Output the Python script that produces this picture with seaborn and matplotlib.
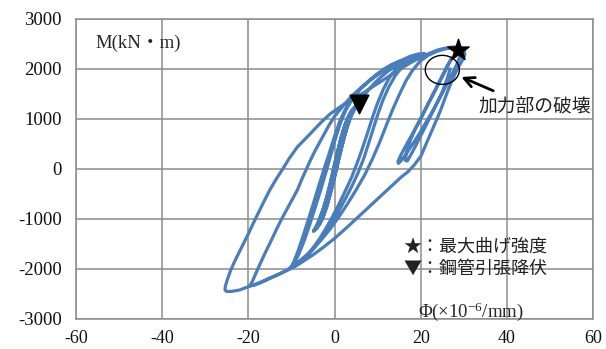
import matplotlib
matplotlib.use("Agg")
import matplotlib.pyplot as plt
from matplotlib.patches import Ellipse
import seaborn as sns

phi_elastic = [0, 0.8, 1.6, 2.5, 3.4, 4.2, 4.9, 5.6,
               4.8, 3.9, 3.0, 2.2, 1.4, 0.6, -0.2, -1.0, -1.8, -2.6, -3.4, -4.1, -4.9,
               -4.2, -3.4, -2.6, -1.8, -1.0, -0.2, 0.6, 1.4, 2.2, 3.0, 3.8, 4.6, 5.5,
               4.7, 3.8, 2.9, 2.1, 1.3, 0.5, -0.3, -1.1, -1.9, -2.7, -3.5, -4.2, -4.8,
               -4.1, -3.3, -2.5, -1.7, -0.9, -0.1, 0.7, 1.5, 2.3, 3.1, 3.9, 4.8, 5.6]
m_elastic = [0, 250, 500, 760, 980, 1140, 1240, 1300,
             1250, 1160, 1010, 820, 580, 300, 0, -300, -570, -800, -990, -1140, -1250,
             -1200, -1100, -950, -750, -500, -230, 60, 350, 620, 860, 1050, 1190, 1290,
             1240, 1140, 990, 800, 560, 280, -20, -320, -590, -820, -1000, -1140, -1230,
             -1180, -1080, -930, -730, -480, -210, 80, 370, 640, 880, 1070, 1220, 1300]

phi_cycle2 = [6.6, 7.8, 9.2, 10.8, 12.5, 14.3, 16,
              15, 13.5, 11.8, 10, 8, 6, 4, 2.5, 1.2, 0, -1.2, -2.5, -3.8, -5, -6.2, -7.4, -8.5, -9.4, -10,
              -9.2, -8, -6.5, -5, -3.5, -2, -0.5, 1, 2.5, 4, 5.3, 6.5, 7.7, 8.8, 10, 11.3, 12.7, 14.2, 15.8, 17.7,
              16.5, 15, 13.3, 11.5, 9.6, 7.7, 5.8, 4, 2.6, 1.3, 0.2, -0.9, -2, -3.2, -4.4, -5.7, -7, -8.3, -9.4, -10.2]
m_cycle2 = [1430, 1570, 1710, 1840, 1960, 2060, 2130,
            2120, 2070, 1990, 1890, 1760, 1600, 1400, 1190, 950, 650, 320, -20, -380, -720, -1050, -1370, -1650, -1850, -1960,
            -1940, -1870, -1740, -1580, -1400, -1190, -960, -710, -440, -160, 130, 420, 730, 1030, 1320, 1590, 1820, 1990, 2110, 2180,
            2180, 2150, 2090, 2000, 1880, 1740, 1580, 1380, 1170, 900, 600, 270, -70, -420, -750, -1100, -1430, -1710, -1890, -1970]

phi_cycle3 = [-9.3, -8, -6.5, -5, -3.5, -2, -0.5, 1, 2.5, 4, 5.4, 6.7, 7.8, 8.9, 10, 11.2, 12.6, 14.2, 16, 18, 19.7, 21,
              19.5, 17.5, 15.5, 13.5, 11.3, 9, 6.5, 4, 2, 0, -1.3, -2.5, -3.5, -4.4, -5.5, -6.5, -7.6, -8.6,
              -10.3, -12, -13.3, -14.5, -15.8, -17, -18.1, -19, -19.6]
m_cycle3 = [-1950, -1880, -1760, -1610, -1440, -1250, -1050, -840, -600, -350, -90, 190, 480, 780, 1080, 1370, 1640, 1880, 2070, 2210, 2280, 2300,
            2300, 2250, 2170, 2080, 1960, 1820, 1650, 1460, 1260, 1050, 870, 680, 520, 380, 190, 0, -210, -420,
            -690, -960, -1180, -1400, -1630, -1850, -2060, -2240, -2330]

phi_cycle4 = [-18.8, -17, -15, -13, -11, -9, -7, -5, -3, -1, 1, 3, 5, 7, 8.8, 10.5, 12, 13.5, 15, 16.5, 18, 19.8,
              21.7, 23.7, 25.7, 27.5, 29.3,
              28, 26.5, 24, 22, 20, 18, 16, 14, 11.5, 9, 6.5, 3.7, 1.3, -1, -3, -5, -7, -8.6, -10.5, -12, -13.5,
              -15, -16.3, -17.5, -18.8, -20, -21.5, -23, -24.1, -24.8, -25.3, -25.4, -25,
              -24, -22, -19.5, -17, -15, -12.5, -10, -7.5, -5, -2.5, 0, 3, 6, 8, 10, 12, 14, 15.5, 17,
              18.5, 20, 21.5, 23, 24.5, 26, 27.3, 28.5, 29.5, 30.2, 30.1, 29.8]
m_cycle4 = [-2330, -2270, -2190, -2110, -2020, -1900, -1760, -1600, -1410, -1200, -960, -700, -420, -120, 200, 540, 870, 1190, 1480, 1750, 1960, 2150,
            2270, 2350, 2400, 2425, 2420,
            2440, 2430, 2380, 2310, 2230, 2140, 2040, 1930, 1790, 1650, 1510, 1380, 1240, 1100, 940, 760, 580, 440, 210, 0, -200,
            -420, -640, -850, -1080, -1300, -1560, -1820, -2030, -2200, -2340, -2420, -2450,
            -2450, -2420, -2340, -2260, -2180, -2090, -1990, -1860, -1720, -1560, -1390, -1160, -920, -760, -600, -440, -280, -160, -60,
            80, 250, 550, 850, 1150, 1500, 1780, 2000, 2150, 2280, 2370, 2400]

phi_failure = [29.2, 28.3, 27, 25.5, 24, 22.5, 21, 19.5, 18, 16.6, 15.5, 14.8, 14.7, 15.4, 16.5, 17.8, 19.2, 20.6, 22, 23.4, 24.8, 26, 26.9, 27.2,
               26.8, 25.7, 24.4, 23, 21.6, 20.2, 18.8, 17.6, 16.7, 16.4, 16.9, 18, 19.4, 20.8, 22.2, 23.6, 25, 26.1, 26.8]
m_failure = [2270, 2080, 1850, 1600, 1350, 1120, 900, 680, 480, 300, 170, 110, 150, 280, 460, 660, 880, 1110, 1350, 1590, 1830, 2040, 2170, 2220,
             2150, 1960, 1740, 1510, 1280, 1040, 810, 580, 340, 170, 160, 330, 560, 800, 1040, 1290, 1540, 1800, 2000]

phi = phi_elastic + phi_cycle2 + phi_cycle3 + phi_cycle4 + phi_failure
moment = m_elastic + m_cycle2 + m_cycle3 + m_cycle4 + m_failure

max_point = (28.6, 2380)     # max bending strength
yield_point = (5.6, 1300)    # steel tube tensile yield
failure_point = (25.0, 1980)

x_ticks = [-60, -40, -20, 0, 20, 40, 60]
y_ticks = [-3000, -2000, -1000, 0, 1000, 2000, 3000]

serif = ["Liberation Serif", "Noto Sans CJK JP"]
cjk = ["Noto Sans CJK JP", "DejaVu Sans"]
grid_col = "#8c8c8c"
line_col = "#4a7ebb"

sns.set_style("white")
plt.rcParams["mathtext.fontset"] = "custom"
plt.rcParams["mathtext.rm"] = "Liberation Serif"
plt.rcParams["mathtext.default"] = "regular"

fig = plt.figure(figsize=(6.06, 3.49), dpi=100)
ax = fig.add_axes([0.125, 0.086, 0.854, 0.860])

sns.lineplot(x=phi, y=moment, sort=False, estimator=None, color=line_col,
             linewidth=2.3, ax=ax, zorder=3)

ax.set_xlim(-60, 60)
ax.set_ylim(-3000, 3000)
ax.set_xticks(x_ticks)
ax.set_yticks(y_ticks)
ax.set_xticklabels([str(v) for v in x_ticks])
ax.set_yticklabels([str(v) for v in y_ticks])
ax.grid(True, color=grid_col, linewidth=1.1)
for s in ax.spines.values():
    s.set_color(grid_col)
    s.set_linewidth(1.1)
ax.tick_params(axis="both", direction="out", length=5, width=1.1, color=grid_col,
               labelsize=13.5, labelcolor="#111111")
ax.tick_params(axis="x", pad=3, labelsize=13)
ax.tick_params(axis="y", pad=5)
for lab in ax.get_xticklabels() + ax.get_yticklabels():
    lab.set_family(serif)
ax.set_xlabel("")
ax.set_ylabel("")

ax.scatter([max_point[0]], [max_point[1]], marker="*", s=260, color="black", zorder=5)
ax.scatter([yield_point[0]], [yield_point[1]], marker="v", s=180, color="black", zorder=5)
ax.add_patch(Ellipse(failure_point, width=7.9, height=580, fill=False,
                     edgecolor="black", linewidth=1.0, zorder=6))
ax.annotate("", xy=(28.8, 1860), xytext=(37.4, 1540),
            arrowprops=dict(arrowstyle="->", color="black", lw=2, mutation_scale=18),
            zorder=6)
ax.text(33.4, 1260, "加力部の破壊", family=cjk, fontsize=13.5, va="center", color="#222222")

ax.text(-55.4, 2520, "M(kN・m)", family=serif, fontsize=13.5, va="center")
ax.text(19.3, -2860, r"Φ(×10$^{-6}$/mm)", family=serif, fontsize=13.5, va="center")
ax.text(16.0, -1560, "★：最大曲げ強度", family=cjk, fontsize=13, va="center", color="#222222")
ax.text(16.0, -2000, "▼：鋼管引張降伏", family=cjk, fontsize=13, va="center", color="#222222")

fig.savefig("out.png", dpi=100)
